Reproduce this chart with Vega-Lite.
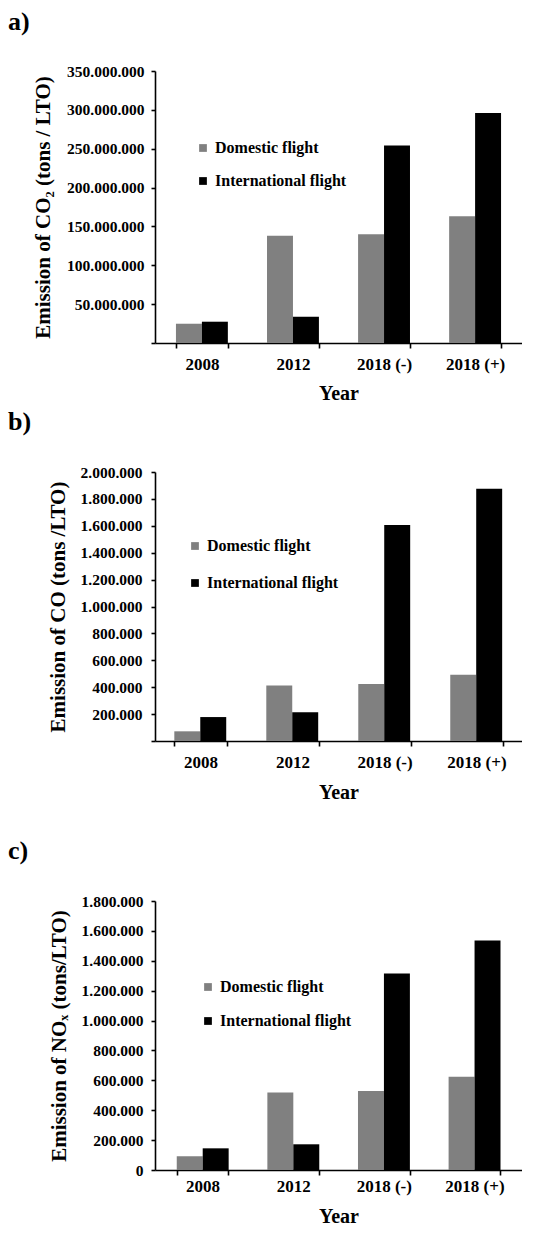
{
  "$schema": "https://vega.github.io/schema/vega-lite/v6.json",
  "padding": {"left": 8, "top": 9, "right": 0, "bottom": 0},
  "background": "white",
  "data": {"values": [
    {"panel": "a", "year": "2008", "type": "Domestic flight", "value": 24800000},
    {"panel": "a", "year": "2008", "type": "International flight", "value": 27400000},
    {"panel": "a", "year": "2012", "type": "Domestic flight", "value": 138000000},
    {"panel": "a", "year": "2012", "type": "International flight", "value": 33800000},
    {"panel": "a", "year": "2018 (-)", "type": "Domestic flight", "value": 140000000},
    {"panel": "a", "year": "2018 (-)", "type": "International flight", "value": 254000000},
    {"panel": "a", "year": "2018 (+)", "type": "Domestic flight", "value": 163000000},
    {"panel": "a", "year": "2018 (+)", "type": "International flight", "value": 296000000},
    {"panel": "b", "year": "2008", "type": "Domestic flight", "value": 72000},
    {"panel": "b", "year": "2008", "type": "International flight", "value": 178000},
    {"panel": "b", "year": "2012", "type": "Domestic flight", "value": 413000},
    {"panel": "b", "year": "2012", "type": "International flight", "value": 213000},
    {"panel": "b", "year": "2018 (-)", "type": "Domestic flight", "value": 424000},
    {"panel": "b", "year": "2018 (-)", "type": "International flight", "value": 1606000},
    {"panel": "b", "year": "2018 (+)", "type": "Domestic flight", "value": 493000},
    {"panel": "b", "year": "2018 (+)", "type": "International flight", "value": 1876000},
    {"panel": "c", "year": "2008", "type": "Domestic flight", "value": 92000},
    {"panel": "c", "year": "2008", "type": "International flight", "value": 145000},
    {"panel": "c", "year": "2012", "type": "Domestic flight", "value": 519000},
    {"panel": "c", "year": "2012", "type": "International flight", "value": 172000},
    {"panel": "c", "year": "2018 (-)", "type": "Domestic flight", "value": 528000},
    {"panel": "c", "year": "2018 (-)", "type": "International flight", "value": 1315000},
    {"panel": "c", "year": "2018 (+)", "type": "Domestic flight", "value": 624000},
    {"panel": "c", "year": "2018 (+)", "type": "International flight", "value": 1535000}
  ]},
  "vconcat": [
    {
      "vconcat": [
        {
          "width": 367, "height": 272,
          "title": {"text": "a)", "dx": -147, "offset": 29},
          "transform": [{"filter": "datum.panel == 'a'"}],
          "mark": {"type": "bar"},
          "encoding": {
            "x": {"field": "year", "type": "nominal", "sort": ["2008", "2012", "2018 (-)", "2018 (+)"],
              "scale": {"paddingInner": 0.43, "paddingOuter": 0.23},
              "axis": {"title": "Year", "labelAngle": 0, "tickBand": "extent", "tickSize": 5, "labelPadding": 8, "titlePadding": 11}},
            "xOffset": {"field": "type", "type": "nominal", "sort": ["Domestic flight", "International flight"]},
            "y": {"field": "value", "type": "quantitative", "scale": {"domain": [0, 350000000]},
              "axis": {"title": "Emission of CO₂ (tons / LTO)", "values": [0, 50000000, 100000000, 150000000, 200000000, 250000000, 300000000, 350000000], "format": ",d", "labelExpr": "datum.value === 0 ? '' : datum.label", "tickSize": 4, "labelPadding": 7, "titlePadding": 13}},
            "color": {"field": "type", "type": "nominal",
              "scale": {"domain": ["Domestic flight", "International flight"], "range": ["#808080", "#000000"]},
              "legend": {"title": null, "orient": "none", "legendX": 40, "legendY": 69, "rowPadding": 17}}
          }
        },
        {
          "width": 367, "height": 269,
          "title": {"text": "b)", "dx": -147, "offset": 30},
          "transform": [{"filter": "datum.panel == 'b'"}],
          "mark": {"type": "bar"},
          "encoding": {
            "x": {"field": "year", "type": "nominal", "sort": ["2008", "2012", "2018 (-)", "2018 (+)"],
              "scale": {"paddingInner": 0.43, "paddingOuter": 0.21},
              "axis": {"title": "Year", "labelAngle": 0, "tickBand": "extent", "tickSize": 5, "labelPadding": 8, "titlePadding": 12}},
            "xOffset": {"field": "type", "type": "nominal", "sort": ["Domestic flight", "International flight"]},
            "y": {"field": "value", "type": "quantitative", "scale": {"domain": [0, 2000000]},
              "axis": {"title": "Emission of CO (tons /LTO)", "values": [0, 200000, 400000, 600000, 800000, 1000000, 1200000, 1400000, 1600000, 1800000, 2000000], "format": ",d", "labelExpr": "datum.value === 0 ? '' : datum.label", "tickSize": 4, "labelPadding": 9, "titlePadding": 12}},
            "color": {"field": "type", "type": "nominal",
              "scale": {"domain": ["Domestic flight", "International flight"], "range": ["#808080", "#000000"]},
              "legend": {"title": null, "orient": "none", "legendX": 32, "legendY": 66, "rowPadding": 21}}
          }
        }
      ],
      "spacing": 6,
      "resolve": {"legend": {"color": "independent"}}
    },
    {
      "width": 367, "height": 269,
      "title": {"text": "c)", "dx": -147, "offset": 30},
      "transform": [{"filter": "datum.panel == 'c'"}],
      "mark": {"type": "bar"},
      "encoding": {
        "x": {"field": "year", "type": "nominal", "sort": ["2008", "2012", "2018 (-)", "2018 (+)"],
          "scale": {"paddingInner": 0.43, "paddingOuter": 0.24},
          "axis": {"title": "Year", "labelAngle": 0, "tickBand": "extent", "tickSize": 5, "labelPadding": 3, "titlePadding": 12}},
        "xOffset": {"field": "type", "type": "nominal", "sort": ["Domestic flight", "International flight"]},
        "y": {"field": "value", "type": "quantitative", "scale": {"domain": [0, 1800000]},
          "axis": {"title": "Emission of NOₓ (tons/LTO)", "values": [0, 200000, 400000, 600000, 800000, 1000000, 1200000, 1400000, 1600000, 1800000], "format": ",d", "tickSize": 4, "labelPadding": 8, "titlePadding": 12}},
        "color": {"field": "type", "type": "nominal",
          "scale": {"domain": ["Domestic flight", "International flight"], "range": ["#808080", "#000000"]},
          "legend": {"title": null, "orient": "none", "legendX": 45, "legendY": 78, "rowPadding": 18}}
      }
    }
  ],
  "spacing": 36,
  "resolve": {"legend": {"color": "independent"}},
  "config": {
    "locale": {"number": {"decimal": ",", "thousands": ".", "grouping": [3], "currency": ["", ""]}},
    "font": "Liberation Serif",
    "view": {"stroke": null},
    "axis": {"labelFont": "Liberation Serif", "titleFont": "Liberation Serif", "labelFontWeight": "bold", "titleFontWeight": "bold", "labelColor": "black", "titleColor": "black", "domainColor": "black", "tickColor": "black", "grid": false, "labelFontSize": 15.5, "titleFontSize": 21, "domainWidth": 1.6, "tickWidth": 1.6},
    "axisX": {"labelFontSize": 17, "titleFontSize": 20},
    "legend": {"labelFont": "Liberation Serif", "labelFontWeight": "bold", "labelFontSize": 16, "labelColor": "black", "symbolType": "square", "symbolSize": 60, "symbolStrokeWidth": 0, "padding": 0, "labelOffset": 4},
    "title": {"font": "Liberation Serif", "fontSize": 26, "fontWeight": "bold", "anchor": "start", "frame": "group", "color": "black"}
  }
}
